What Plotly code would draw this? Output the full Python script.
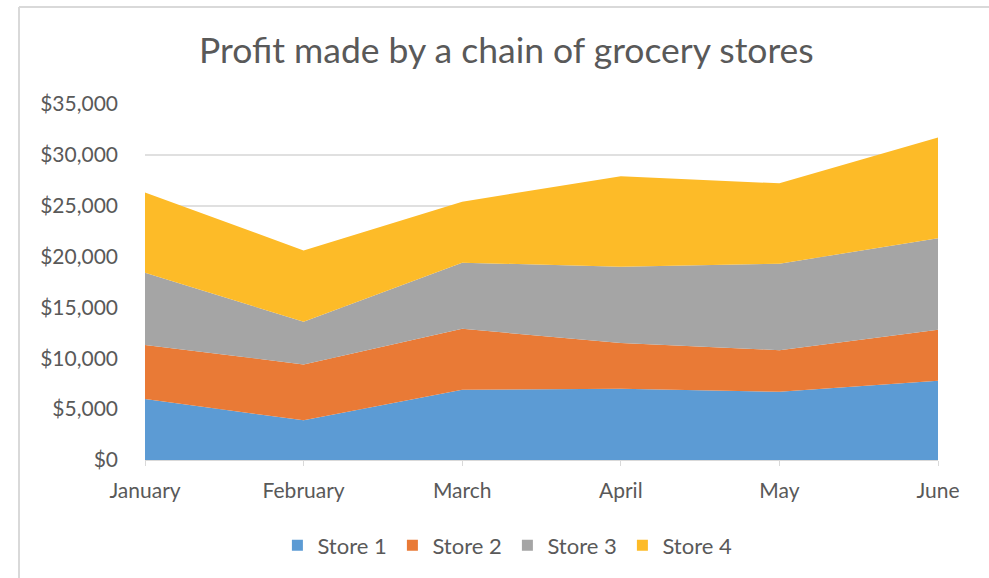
import plotly.graph_objects as go

months = ["January", "February", "March", "April", "May", "June"]
store1 = [6000, 3900, 6900, 7000, 6700, 7800]
store2 = [5300, 5500, 6000, 4500, 4100, 5000]
store3 = [7100, 4200, 6500, 7500, 8500, 9000]
store4 = [7900, 7000, 6000, 8900, 7900, 9900]
series_names = ["Store 1", "Store 2", "Store 3", "Store 4"]
y_ticks = [0, 5000, 10000, 15000, 20000, 25000, 30000, 35000]
y_tick_labels = ["$0", "$5,000", "$10,000", "$15,000", "$20,000", "$25,000", "$30,000", "$35,000"]

colors = ["#5C9BD4", "#E97A36", "#A5A5A5", "#FDBB28"]
FONT = "Lato, 'Open Sans', sans-serif"
TXT = "#595959"

fig = go.Figure()
for name, vals, c in zip(series_names, [store1, store2, store3, store4], colors):
    fig.add_trace(go.Scatter(
        x=months, y=vals, name=name, mode="lines", showlegend=False,
        stackgroup="one", line=dict(width=0, color=c), fillcolor=c,
    ))
# legend entries drawn as square swatches
for name, c in zip(series_names, colors):
    fig.add_trace(go.Scatter(
        x=[None], y=[None], name=name, mode="markers",
        marker=dict(symbol="square", size=11, color=c),
    ))

fig.update_layout(
    width=989, height=578,
    paper_bgcolor="white", plot_bgcolor="white",
    margin=dict(l=145, r=51, t=104, b=118),
    title=dict(text="Profit made by a chain of grocery stores",
               x=0.512, xanchor="center", y=0.912, yanchor="middle",
               font=dict(family=FONT, size=35.5, color=TXT)),
    showlegend=True,
    legend=dict(orientation="h", x=0.457, xanchor="center", y=-0.24, yanchor="middle",
                font=dict(family=FONT, size=22, color=TXT), traceorder="normal",
                itemwidth=30, entrywidth=70, entrywidthmode="pixels",
                bgcolor="rgba(0,0,0,0)"),
    xaxis=dict(range=[0, 5], showgrid=False, showline=True, linecolor="#d9d9d9", linewidth=1,
               ticks="outside", ticklen=5, tickcolor="#d9d9d9", zeroline=False,
               ticklabelstandoff=7,
               tickfont=dict(family=FONT, size=21, color=TXT)),
    yaxis=dict(range=[0, 35000], tickvals=y_ticks, ticktext=y_tick_labels,
               showgrid=True, gridcolor="#e0e0e0", gridwidth=2, zeroline=False,
               showline=False, ticks="", ticklabelstandoff=26,
               tickfont=dict(family=FONT, size=21, color=TXT)),
    shapes=[
        dict(type="line", xref="paper", yref="paper", x0=(19 - 145) / 793, x1=1.2,
             y0=(460 - 7) / 356, y1=(460 - 7) / 356, line=dict(color="#d9d9d9", width=2)),
        dict(type="line", xref="paper", yref="paper", x0=(19 - 145) / 793, x1=(19 - 145) / 793,
             y0=(460 - 7) / 356, y1=-0.5, line=dict(color="#d9d9d9", width=2)),
    ],
)

fig.write_html("out.html", config={"displayModeBar": False},
               post_script="document.body.style.margin='0';")
